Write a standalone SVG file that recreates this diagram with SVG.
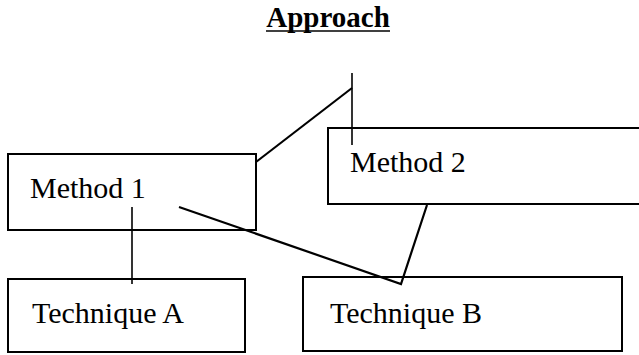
<svg xmlns="http://www.w3.org/2000/svg" width="639" height="355" viewBox="0 0 639 355">
<style>
.box{fill:#fff;stroke:#000;stroke-width:2}
.lbl{font-family:"Liberation Serif","Times New Roman",serif;font-size:30px;fill:#000}
.ttl{font-family:"Liberation Serif","Times New Roman",serif;font-size:29px;font-weight:bold;fill:#000}
.con{fill:none;stroke:#000;stroke-width:2.2;stroke-linejoin:miter}
.thin{fill:none;stroke:#000;stroke-width:1.6}
</style>
<rect width="639" height="355" fill="#fff"/>
<g id="title">
<text class="ttl" x="328" y="27" text-anchor="middle">Approach</text>
<line x1="266" y1="31" x2="390" y2="31" stroke="#000" stroke-width="1.6"/>
</g>
<g id="method1">
<rect class="box" x="8" y="154" width="248" height="76"/>
<text class="lbl" x="30" y="198">Method 1</text>
</g>
<g id="method2">
<rect class="box" x="328" y="128" width="320" height="76"/>
<text class="lbl" x="350" y="172">Method 2</text>
</g>
<g id="techniqueA">
<rect class="box" x="8" y="279" width="237" height="73"/>
<text class="lbl" x="32" y="323">Technique A</text>
</g>
<g id="techniqueB">
<rect class="box" x="303" y="277" width="319" height="74"/>
<text class="lbl" x="330" y="323">Technique B</text>
</g>
<g id="connectors">
<line class="thin" x1="352" y1="73" x2="352" y2="145"/>
<line class="con" x1="256" y1="162" x2="352" y2="88"/>
<line class="thin" x1="132" y1="207" x2="132" y2="284"/>
<polyline class="con" points="179,207 401,284 427,205"/>
</g>
</svg>
